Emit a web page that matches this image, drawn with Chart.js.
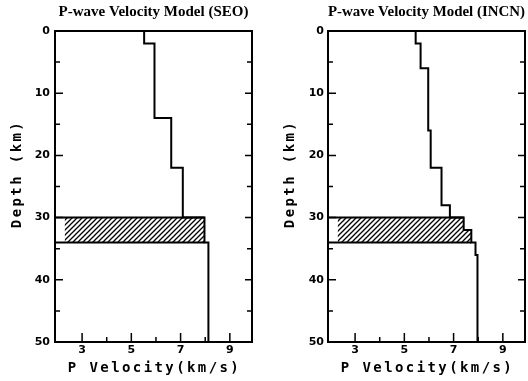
<!DOCTYPE html>
<html>
<head>
<meta charset="utf-8">
<script src="https://cdn.jsdelivr.net/npm/chart.js@4.4.1/dist/chart.umd.min.js"></script>
<style>
    html, body { margin: 0; padding: 0; background: #fff; }
    #wrap { position: relative; width: 528px; height: 381px; }
    canvas { position: absolute; top: 0; }
</style>
</head>
<body>
<div id="wrap">
    <canvas id="seoChart" width="264" height="381" style="left:0"></canvas>
    <canvas id="incnChart" width="264" height="381" style="left:264px"></canvas>
</div>
<script>
// layer tops (km) and P velocities (km/s)
const seoTops = [0, 2, 14, 22, 30, 34];
const seoVel = [5.52, 5.94, 6.62, 7.09, 7.97, 8.13];
const incnTops = [0, 2, 6, 16, 22, 28, 30, 32, 34, 36];
const incnVel = [5.46, 5.66, 5.97, 6.07, 6.51, 6.85, 7.41, 7.72, 7.89, 7.97];

const maxDepth = 50;
const mohoTop = 30;
const mohoBottom = 34;
const hatchStart = 2.3;

const xMin = 1.9, xMax = 9.9;
const xTicks = [3, 5, 7, 9];
const xMinorTicks = [4, 6, 8];
const yTicks = [0, 10, 20, 30, 40, 50];
const yMinorTicks = [5, 15, 25, 35, 45];

const xTitle = "P Velocity(km/s)";
const yTitle = "Depth (km)";

function layerBottom(tops, i) {
    return i + 1 < tops.length ? tops[i + 1] : maxDepth;
}

function profilePoints(tops, vel) {
    let pts = [];
    tops.forEach((t, i) => {
        pts.push({ x: vel[i], y: t });
        pts.push({ x: vel[i], y: layerBottom(tops, i) });
    });
    return pts;
}

function velAt(tops, vel, depth) {
    let v = vel[0];
    tops.forEach((t, i) => { if (t <= depth) v = vel[i]; });
    return v;
}

function hatchPoints(tops, vel) {
    let pts = [{ x: hatchStart, y: mohoTop }];
    tops.forEach((t, i) => {
        let b = layerBottom(tops, i);
        if (t < mohoBottom && b > mohoTop) {
            pts.push({ x: vel[i], y: Math.max(t, mohoTop) });
            pts.push({ x: vel[i], y: Math.min(b, mohoBottom) });
        }
    });
    pts.push({ x: hatchStart, y: mohoBottom });
    pts.push({ x: hatchStart, y: mohoTop });
    return pts;
}

function makeHatch() {
    const c = document.createElement("canvas");
    c.width = 5; c.height = 5;
    const g = c.getContext("2d");
    g.strokeStyle = "#000";
    g.lineWidth = 1.3;
    g.beginPath();
    g.moveTo(-1, 6); g.lineTo(6, -1);
    g.moveTo(-2, 2); g.lineTo(2, -2);
    g.moveTo(3, 7); g.lineTo(7, 3);
    g.stroke();
    return g.createPattern(c, "repeat");
}

// frame, inward ticks and spaced axis titles
const framePlugin = {
    id: "frame",
    afterDatasetsDraw(chart) {
        const { ctx, chartArea: a } = chart;
        const x = chart.scales.x, y = chart.scales.y;
        ctx.save();
        ctx.strokeStyle = "#000";
        ctx.lineWidth = 2;
        ctx.strokeRect(a.left, a.top, a.right - a.left, a.bottom - a.top);

        ctx.lineWidth = 1.5;
        ctx.beginPath();
        yTicks.forEach(v => {
            const p = y.getPixelForValue(v);
            ctx.moveTo(a.left, p); ctx.lineTo(a.left + 8, p);
            ctx.moveTo(a.right, p); ctx.lineTo(a.right - 7, p);
        });
        yMinorTicks.forEach(v => {
            const p = y.getPixelForValue(v);
            ctx.moveTo(a.left, p); ctx.lineTo(a.left + 5, p);
            ctx.moveTo(a.right, p); ctx.lineTo(a.right - 5, p);
        });
        xTicks.forEach(v => {
            const p = x.getPixelForValue(v);
            ctx.moveTo(p, a.bottom); ctx.lineTo(p, a.bottom - 9);
        });
        xMinorTicks.forEach(v => {
            const p = x.getPixelForValue(v);
            ctx.moveTo(p, a.bottom); ctx.lineTo(p, a.bottom - 5);
        });
        ctx.stroke();

        ctx.fillStyle = "#000";
        ctx.font = 'bold 14px "DejaVu Sans Mono"';
        ctx.letterSpacing = "2.4px";
        ctx.textAlign = "center";
        ctx.textBaseline = "middle";
        ctx.fillText(xTitle, (a.left + a.right) / 2 + 1, 368);
        ctx.translate(a.left - 38, 174);
        ctx.rotate(-Math.PI / 2);
        ctx.fillText(yTitle, 0, 0);
        ctx.restore();
    }
};

function buildChart(canvasId, title, tops, vel, axisWidth, rightPad, labelPad) {
    const hatch = makeHatch();
    const lineStyle = { borderColor: "#000", borderWidth: 2, pointRadius: 0, fill: false };
    const ctx = document.getElementById(canvasId).getContext("2d");
    return new Chart(ctx, {
        type: "line",
        data: {
            datasets: [
                {
                    data: hatchPoints(tops, vel),
                    borderWidth: 0,
                    borderColor: "rgba(0,0,0,0)",
                    backgroundColor: hatch,
                    pointRadius: 0,
                    fill: "shape",
                    order: 3
                },
                Object.assign({
                    data: [{ x: xMin, y: mohoTop }, { x: velAt(tops, vel, mohoTop), y: mohoTop }],
                    order: 2
                }, lineStyle),
                Object.assign({
                    data: [{ x: xMin, y: mohoBottom }, { x: velAt(tops, vel, mohoBottom - 0.01), y: mohoBottom }],
                    order: 2
                }, lineStyle),
                Object.assign({
                    data: profilePoints(tops, vel),
                    order: 1
                }, lineStyle)
            ]
        },
        options: {
            responsive: false,
            animation: false,
            layout: { padding: { top: 0, left: 0, right: rightPad, bottom: 0 } },
            plugins: {
                legend: { display: false },
                tooltip: { enabled: false },
                title: {
                    display: true,
                    text: title,
                    fullSize: false,
                    color: "#000",
                    font: { family: '"Liberation Serif", "Times New Roman", serif', size: 15, weight: "bold", lineHeight: 1.2 },
                    padding: { top: 3, bottom: 10 }
                }
            },
            scales: {
                x: {
                    type: "linear",
                    min: xMin,
                    max: xMax,
                    grid: { display: false, drawTicks: false },
                    border: { display: false },
                    afterBuildTicks: s => { s.ticks = xTicks.map(v => ({ value: v })); },
                    afterFit: s => { s.height = 39; },
                    ticks: {
                        color: "#000",
                        padding: 2,
                        font: { family: '"DejaVu Sans"', size: 11, weight: "bold" }
                    }
                },
                y: {
                    type: "linear",
                    reverse: true,
                    min: 0,
                    max: maxDepth,
                    grid: { display: false, drawTicks: false },
                    border: { display: false },
                    afterBuildTicks: s => { s.ticks = yTicks.map(v => ({ value: v })); },
                    afterFit: s => { s.width = axisWidth; },
                    ticks: {
                        color: "#000",
                        padding: labelPad,
                        font: { family: '"DejaVu Sans"', size: 11, weight: "bold" }
                    }
                }
            }
        },
        plugins: [framePlugin]
    });
}

document.addEventListener("DOMContentLoaded", function () {
    buildChart("seoChart", "P-wave Velocity Model (SEO)", seoTops, seoVel, 55, 12, 5);
    buildChart("incnChart", "P-wave Velocity Model (INCN)", incnTops, incnVel, 64, 3, 4);
});
</script>
</body>
</html>
